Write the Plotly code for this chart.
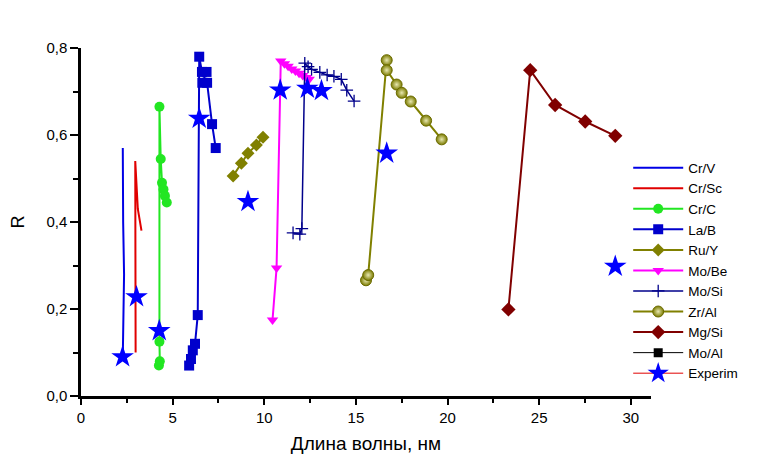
import plotly.graph_objects as go

# wavelength (nm) / reflectivity per multilayer pair
crv_x = [2.28, 2.33, 2.35, 2.30, 2.28]
crv_y = [0.09, 0.19, 0.28, 0.40, 0.57]

crsc_x = [2.98, 2.97, 2.96, 3.10, 3.30]
crsc_y = [0.10, 0.30, 0.54, 0.43, 0.38]

crc_x = [4.25, 4.30, 4.28, 4.28, 4.35, 4.42, 4.50, 4.58, 4.68]
crc_y = [0.07, 0.08, 0.125, 0.665, 0.545, 0.49, 0.475, 0.46, 0.445]

lab_x = [5.90, 6.00, 6.10, 6.22, 6.37, 6.45, 6.60, 6.85, 6.62, 6.88, 7.15, 7.35]
lab_y = [0.07, 0.085, 0.105, 0.12, 0.186, 0.78, 0.745, 0.745, 0.72, 0.72, 0.625, 0.57]

ruy_x = [8.30, 8.75, 9.11, 9.57, 9.93]
ruy_y = [0.506, 0.535, 0.558, 0.577, 0.595]

mobe_x = [10.45, 10.67, 10.90, 11.10, 11.30, 11.50, 11.70, 11.90, 12.10, 12.30, 12.45]
mobe_y = [0.175, 0.294, 0.770, 0.764, 0.758, 0.752, 0.747, 0.742, 0.737, 0.732, 0.728]

mosi_x = [11.57, 11.94, 12.05, 12.21, 12.39, 12.58, 13.03, 13.43, 13.80, 14.20, 14.50, 14.90]
mosi_y = [0.375, 0.372, 0.385, 0.765, 0.757, 0.751, 0.744, 0.738, 0.735, 0.728, 0.703, 0.678]

zral_x = [15.55, 15.67, 16.68, 16.68, 17.22, 17.50, 17.99, 18.83, 19.68]
zral_y = [0.266, 0.278, 0.772, 0.749, 0.716, 0.697, 0.677, 0.633, 0.590]

mgsi_x = [23.32, 24.51, 25.87, 27.51, 29.15]
mgsi_y = [0.199, 0.749, 0.669, 0.631, 0.598]

exp_x = [2.27, 3.03, 4.27, 6.45, 9.11, 10.87, 12.35, 13.12, 16.68, 29.15]
exp_y = [0.09, 0.228, 0.15, 0.638, 0.447, 0.703, 0.707, 0.702, 0.558, 0.298]

fig = go.Figure()


def add(name, x, y, color, symbol=None, size=9, mcolor=None, width=2):
    mode = "lines" if symbol is None else "lines+markers"
    fig.add_trace(go.Scatter(
        x=x, y=y, name=name, mode=mode, cliponaxis=False,
        line=dict(color=color, width=width),
        marker=dict(symbol=symbol or "circle", size=size, color=mcolor or color,
                    line=dict(width=0)),
    ))


add("Cr/V", crv_x, crv_y, "#0000e6")
add("Cr/Sc", crsc_x, crsc_y, "#e00000")
add("Cr/C", crc_x, crc_y, "#22e622", "circle", 10)
add("La/B", lab_x, lab_y, "#0000cc", "square", 10)
add("Ru/Y", ruy_x, ruy_y, "#808000", "diamond", 10)
add("Mo/Be", mobe_x, mobe_y, "#ff00ff", "triangle-down", 10)
add("Mo/Si", mosi_x, mosi_y, "#00008b", "cross-thin", 9, width=1.5)
fig.data[-1].marker.line = dict(width=1.3, color="#00008b")
add("Zr/Al", zral_x, zral_y, "#808000", "circle", 11, mcolor="#7a7a00")
# sphere-like look of the Zr/Al markers
fig.data[-1].marker.line = dict(width=1, color="#6b6b00")
fig.data[-1].marker.gradient = dict(type="radial", color="#e8e8b0")
add("Mg/Si", mgsi_x, mgsi_y, "#800000", "diamond", 11)
add("Mo/Al", [None], [None], "#000000", "square", 9, width=1)

# experimental points: stars only, legend sample has a thin red line
fig.add_trace(go.Scatter(
    x=exp_x, y=exp_y, mode="markers", showlegend=False, cliponaxis=False,
    marker=dict(symbol="star", size=17, color="#0000ff", line=dict(width=0)),
))
fig.add_trace(go.Scatter(
    x=[None], y=[None], name="Experim", mode="lines+markers",
    line=dict(color="#e00000", width=1),
    marker=dict(symbol="star", size=17, color="#0000ff", line=dict(width=0)),
))

axis_font = dict(family="Liberation Sans, Arial", size=15, color="black")

# page body has an 8px margin, so the margins are shifted to compensate
fig.update_layout(
    width=768, height=467,
    margin=dict(l=73, r=125, t=40, b=79),
    paper_bgcolor="white", plot_bgcolor="white",
    separators=", ",
    font=dict(family="Liberation Sans, Arial", color="black"),
    showlegend=True,
    legend=dict(
        x=0.96, xanchor="left", y=0.70, yanchor="top",
        font=dict(size=13.5, family="Liberation Sans, Arial"),
        bgcolor="rgba(0,0,0,0)", tracegroupgap=0, itemwidth=50,
    ),
    xaxis=dict(
        range=[0, 31.1], tickmode="array", tickvals=[0, 5, 10, 15, 20, 25, 30],
        ticks="outside", ticklen=6, tickwidth=2, tickcolor="black",
        minor=dict(tickmode="array", tickvals=[2.5, 7.5, 12.5, 17.5, 22.5, 27.5],
                   ticks="outside", ticklen=4, tickwidth=1.5, tickcolor="black"),
        showline=True, linecolor="black", linewidth=2.5, showgrid=False, zeroline=False,
        tickfont=axis_font, automargin=False,
        title=dict(text="Длина волны, нм", font=dict(size=19, family="Liberation Sans, Arial"),
                   standoff=12),
    ),
    yaxis=dict(
        range=[0, 0.8], tickmode="array", tickvals=[0, 0.2, 0.4, 0.6, 0.8], tickformat=".1f",
        ticks="outside", ticklen=8, tickwidth=2, tickcolor="black",
        minor=dict(tickmode="array", tickvals=[0.1, 0.3, 0.5, 0.7],
                   ticks="outside", ticklen=5, tickwidth=1.5, tickcolor="black"),
        showline=True, linecolor="black", linewidth=2.5, showgrid=False, zeroline=False,
        tickfont=axis_font, automargin=False,
        title=dict(text="R", font=dict(size=18, family="Liberation Sans, Arial"), standoff=22),
    ),
)

fig.write_html("out.html")
